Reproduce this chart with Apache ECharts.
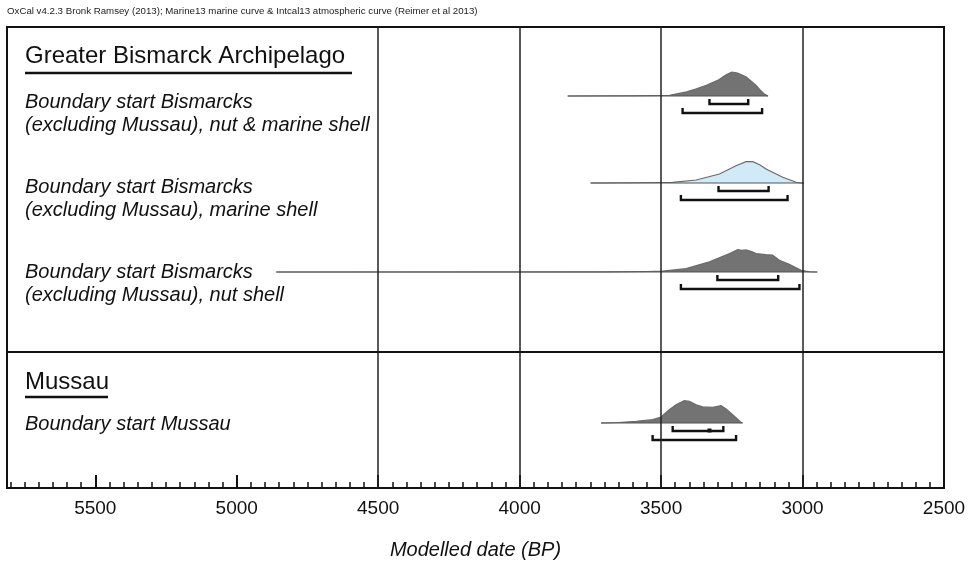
<!DOCTYPE html>
<html>
<head>
<meta charset="utf-8">
<script src="https://cdn.jsdelivr.net/npm/echarts@6/dist/echarts.min.js"></script>
<style>
  html, body { margin: 0; padding: 0; background: #fff; }
  #chart { width: 969px; height: 565px; }
</style>
</head>
<body>
<div id="chart"></div>
<script>
// Calibrated date (BP) vs relative probability for each modelled boundary
const distNutMarine = [[3830,0],[3600,0.01],[3500,0.02],[3470,0.03],[3410,0.17],[3375,0.3],[3340,0.45],[3300,0.65],[3270,0.88],[3250,1.0],[3230,0.96],[3200,0.8],[3165,0.45],[3150,0.25],[3135,0.08],[3122,0]];
const distMarine = [[3749,0],[3600,0.01],[3500,0.02],[3459,0.03],[3376,0.125],[3294,0.375],[3235,0.72],[3200,0.89],[3176,0.89],[3150,0.75],[3129,0.58],[3070,0.24],[3023,0.03],[3005,0],[2995,0]];
const distNut = [[4860,0],[3700,0.005],[3550,0.02],[3494,0.04],[3412,0.14],[3329,0.42],[3258,0.77],[3229,0.93],[3215,0.9],[3200,0.92],[3180,0.85],[3164,0.77],[3130,0.72],[3106,0.7],[3082,0.49],[3047,0.32],[3005,0.07],[2975,0.01],[2948,0]];
const distMussau = [[3712,0],[3650,0.02],[3588,0.07],[3530,0.14],[3500,0.25],[3471,0.55],[3447,0.76],[3418,0.93],[3400,0.9],[3376,0.76],[3353,0.67],[3318,0.65],[3288,0.72],[3270,0.58],[3247,0.35],[3218,0.03],[3212,0]];

// 68.2% and 95.4% highest probability ranges (from, to)
const range68 = [[3329,3192],[3297,3120],[3301,3086],[3459,3280]];
const range95 = [[3424,3143],[3430,3053],[3430,3011],[3530,3235]];
const medianMussau = 3329;

const gridYears = [4500, 4000, 3500, 3000];

const groupTitles = ['Greater Bismarck Archipelago', 'Mussau'];
const rowLabels = [
  ['Boundary start Bismarcks', '(excluding Mussau), nut & marine shell'],
  ['Boundary start Bismarcks', '(excluding Mussau), marine shell'],
  ['Boundary start Bismarcks', '(excluding Mussau), nut shell'],
  ['Boundary start Mussau']
];
const headerText = 'OxCal v4.2.3 Bronk Ramsey (2013); Marine13 marine curve & Intcal13 atmospheric curve (Reimer et al 2013)';
const axisTitle = 'Modelled date (BP)';

// Layout (plot units: 0 at top of frame, downward)
const dists = [distNutMarine, distMarine, distNut, distMussau];
const fills = ['#737373', '#d0eaf7', '#737373', '#737373'];
const baselines = [69, 156, 245, 396];
const peakH = 24;
const GRID_TOP = 27, GRID_LEFT = 7, GRID_RIGHT = 25, GRID_BOTTOM = 77;
const PLOT_H = 565 - GRID_TOP - GRID_BOTTOM;
const X_MIN = 2500, X_MAX = 5812;

const chart = echarts.init(document.getElementById('chart'), null, { renderer: 'canvas' });

function renderDist(params, api) {
  const i = params.dataIndex;
  const d = dists[i];
  const base = baselines[i];
  const top = d.map(([yr, p]) => api.coord([yr, base - p * peakH]));
  const b0 = api.coord([d[0][0], base]);
  const b1 = api.coord([d[d.length - 1][0], base]);
  const poly = top.concat([[b1[0], b1[1]], [b0[0], b0[1]]]);
  return {
    type: 'group',
    children: [
      { type: 'polygon', shape: { points: poly }, style: { fill: fills[i], stroke: null } },
      { type: 'polyline', shape: { points: top }, style: { fill: null, stroke: '#6a6a6a', lineWidth: 1.2 } },
      { type: 'line', shape: { x1: b0[0], y1: b0[1], x2: b1[0], y2: b1[1] }, style: { stroke: '#555', lineWidth: 1 } }
    ]
  };
}

const bracketData = [];
range68.forEach((r, i) => bracketData.push([r[0], r[1], i, 8]));
range95.forEach((r, i) => bracketData.push([r[0], r[1], i, 17]));

function renderBracket(params, api) {
  const [from, to, row, off] = bracketData[params.dataIndex];
  const y = baselines[row] + off;
  const p1 = api.coord([from, y]);
  const p2 = api.coord([to, y]);
  const h = 5;
  const children = [{
    type: 'polyline',
    shape: { points: [[p1[0], p1[1] - h], [p1[0], p1[1]], [p2[0], p2[1]], [p2[0], p2[1] - h]] },
    style: { fill: null, stroke: '#111', lineWidth: 2.4 }
  }];
  if (row === 3 && off === 8) {
    const m = api.coord([medianMussau, y]);
    children.push({ type: 'rect', shape: { x: m[0] - 2, y: m[1] - 2.5, width: 4, height: 4 }, style: { fill: '#111' } });
  }
  return { type: 'group', children };
}

const FONT = 'Liberation Sans, Arial, sans-serif';
const labelStyle = { fontFamily: FONT, fontStyle: 'italic', fontSize: 20, fill: '#111' };
const titleStyle = { fontFamily: FONT, fontSize: 24, fill: '#111' };
const labelCenters = [[102, 125], [187, 210], [272, 295], [424]];

const graphics = [
  { type: 'text', x: 7, y: 11, style: { text: headerText, fontFamily: FONT, fontSize: 9.7, fill: '#222', verticalAlign: 'middle' } },
  { type: 'text', x: 25, y: 56, style: Object.assign({ text: groupTitles[0], verticalAlign: 'middle' }, titleStyle) },
  { type: 'line', shape: { x1: 25, y1: 73, x2: 352, y2: 73 }, style: { stroke: '#111', lineWidth: 2.5 } },
  { type: 'text', x: 25, y: 382, style: Object.assign({ text: groupTitles[1], verticalAlign: 'middle' }, titleStyle) },
  { type: 'line', shape: { x1: 25, y1: 397, x2: 108, y2: 397 }, style: { stroke: '#111', lineWidth: 2.5 } }
];
rowLabels.forEach((lines, i) => {
  lines.forEach((t, j) => {
    graphics.push({ type: 'text', x: 25, y: labelCenters[i][j], style: Object.assign({ text: t, verticalAlign: 'middle' }, labelStyle) });
  });
});

const gridBox = { left: GRID_LEFT, right: GRID_RIGHT, top: GRID_TOP, bottom: GRID_BOTTOM, containLabel: false, outerBoundsMode: 'none' };

chart.setOption({
  animation: false,
  backgroundColor: '#fff',
  grid: [
    Object.assign({ show: true, borderColor: '#111', borderWidth: 2, backgroundColor: 'transparent' }, gridBox),
    Object.assign({ show: false }, gridBox)
  ],
  xAxis: [{
    gridIndex: 0,
    type: 'value', inverse: true, min: X_MIN, max: X_MAX, interval: 500,
    position: 'bottom',
    axisLine: { show: true, onZero: false, lineStyle: { color: '#111', width: 2 } },
    axisTick: { show: true, inside: true, length: 13, lineStyle: { color: '#111', width: 2 } },
    axisLabel: { show: true, margin: 11, fontSize: 19, color: '#111', fontFamily: FONT,
      showMinLabel: true, showMaxLabel: false, formatter: v => String(v) },
    splitLine: { show: false },
    name: axisTitle, nameLocation: 'middle', nameGap: 52,
    nameTextStyle: { fontSize: 20, fontStyle: 'italic', color: '#111', fontFamily: FONT }
  }, {
    gridIndex: 1,
    type: 'value', inverse: true, min: X_MIN, max: X_MAX, interval: 50,
    position: 'bottom',
    axisLine: { show: false, onZero: false },
    axisTick: { show: true, inside: true, length: 6, lineStyle: { color: '#111', width: 1.5 } },
    axisLabel: { show: false },
    splitLine: { show: false }
  }],
  yAxis: [
    { gridIndex: 0, type: 'value', min: 0, max: PLOT_H, inverse: true, show: false, splitLine: { show: false } },
    { gridIndex: 1, type: 'value', min: 0, max: PLOT_H, inverse: true, show: false, splitLine: { show: false } }
  ],
  series: [
    {
      type: 'line', data: [], silent: true, symbol: 'none', xAxisIndex: 0, yAxisIndex: 0,
      markLine: {
        silent: true, symbol: 'none', label: { show: false },
        lineStyle: { color: '#222', width: 1.5, type: 'solid' },
        data: gridYears.map(v => ({ xAxis: v })).concat([{ yAxis: 325, lineStyle: { color: '#111', width: 2 } }])
      }
    },
    {
      type: 'custom', renderItem: renderDist, clip: false, xAxisIndex: 0, yAxisIndex: 0,
      data: dists.map((d, i) => [3300, baselines[i]])
    },
    {
      type: 'custom', renderItem: renderBracket, clip: false, xAxisIndex: 0, yAxisIndex: 0,
      data: bracketData.map(b => [b[0], baselines[b[2]] + b[3]])
    }
  ],
  graphic: graphics
});
</script>
</body>
</html>
